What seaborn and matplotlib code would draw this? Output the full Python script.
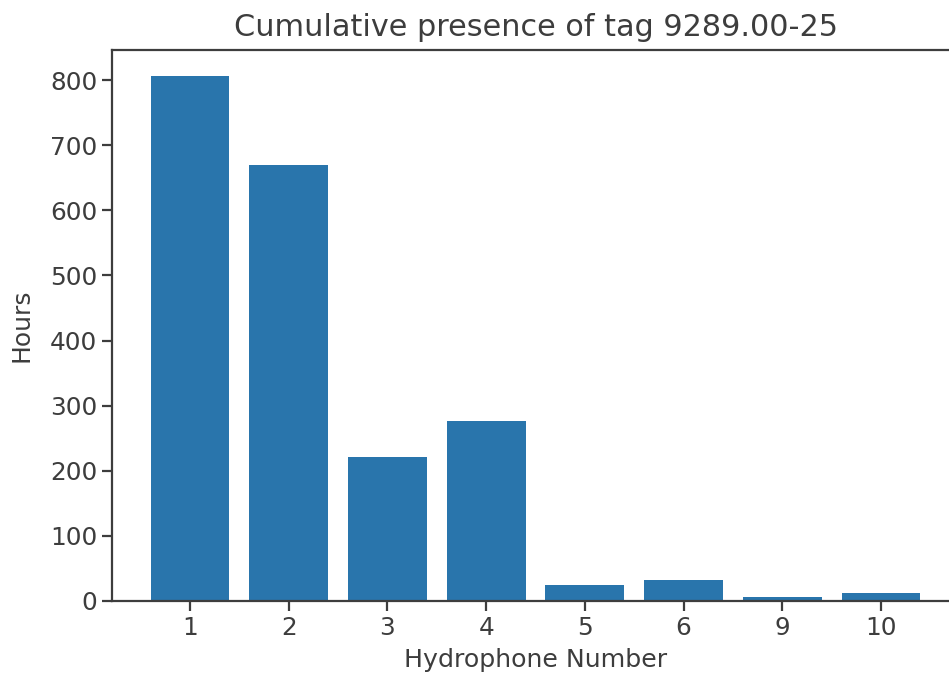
import matplotlib
matplotlib.use("Agg")
import matplotlib.pyplot as plt
import seaborn as sns
import pandas as pd

hydrophones = ["1", "2", "3", "4", "5", "6", "9", "10"]
hours = [806, 669, 221, 276, 24, 32, 6, 13]
title = "Cumulative presence of tag 9289.00-25"

sns.set_theme(style="ticks")
text_col = "#3d3d3d"
plt.rcParams.update({
    "font.family": ["DejaVu Sans"],
    "text.color": text_col,
    "axes.labelcolor": text_col,
    "xtick.color": text_col,
    "ytick.color": text_col,
    "axes.edgecolor": text_col,
})

df = pd.DataFrame({"Hydrophone": hydrophones, "Hours": hours})

fig = plt.figure(figsize=(9.49, 6.81), dpi=100)
ax = fig.add_axes([112 / 949, 80 / 681, (959 - 112) / 949, 551 / 681])
sns.barplot(data=df, x="Hydrophone", y="Hours", order=hydrophones,
            color="#2975ac", saturation=1, width=0.8, ax=ax, errorbar=None,
            linewidth=0, edgecolor="none")
ax.set_xlim(-0.79, 7.79)
ax.set_ylim(0, 846.3)
ax.set_yticks([0, 100, 200, 300, 400, 500, 600, 700, 800])
ax.set_xlabel("Hydrophone Number", fontsize=18.2, labelpad=6)
ax.set_ylabel("Hours", fontsize=18, labelpad=12)
ax.set_title(title, fontsize=21.8, pad=10)
ax.tick_params(labelsize=17.8, length=7, width=1.6)
for s in ["left", "bottom", "top", "right"]:
    ax.spines[s].set_linewidth(1.6)
    ax.spines[s].set_visible(True)

fig.savefig("out.png", dpi=100)
